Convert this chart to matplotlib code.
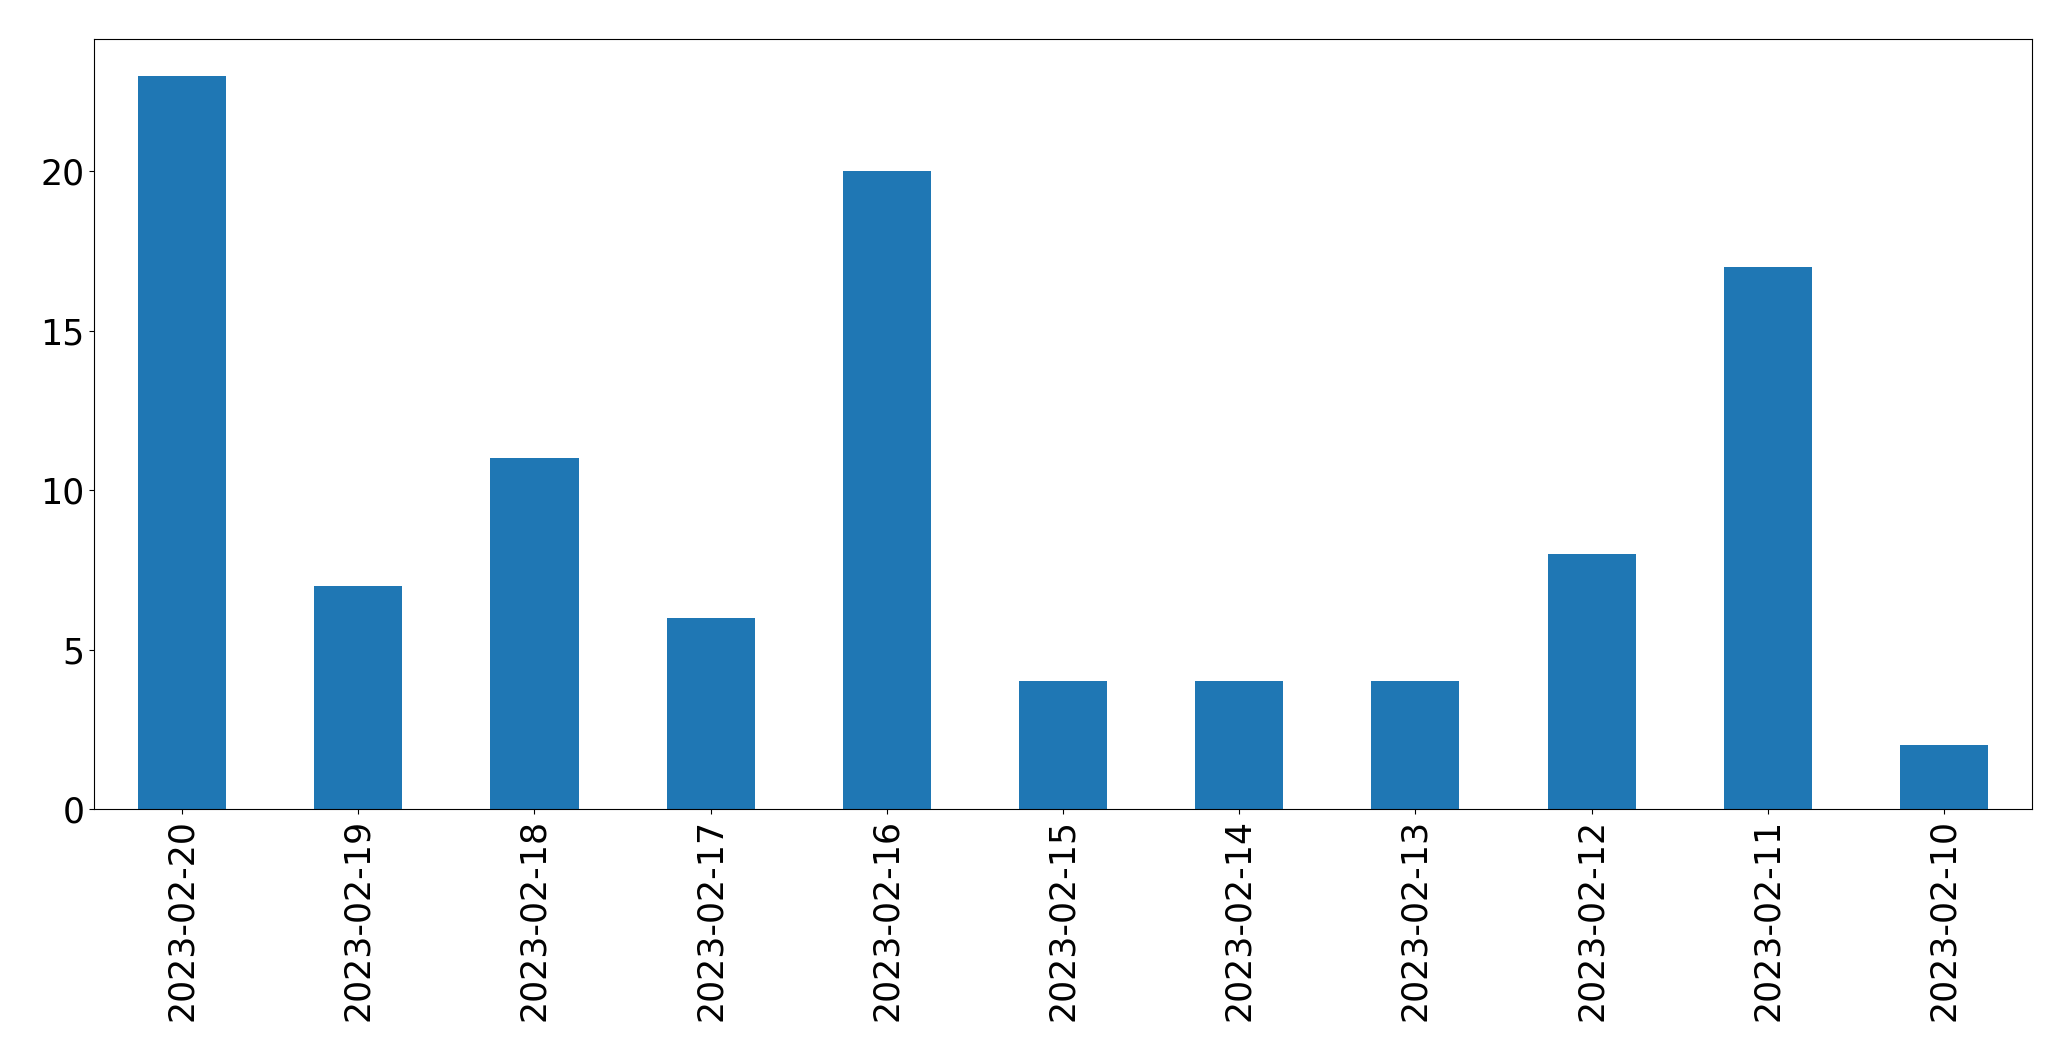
import matplotlib
matplotlib.use('Agg')
import matplotlib.pyplot as plt
import numpy as np
import pandas as pd

dates = ['2023-02-20', '2023-02-19', '2023-02-18', '2023-02-17', '2023-02-16',
         '2023-02-15', '2023-02-14', '2023-02-13', '2023-02-12', '2023-02-11',
         '2023-02-10']
counts = [23, 7, 11, 6, 20, 4, 4, 4, 8, 17, 2]

s = pd.Series(counts, index=dates)

fig = plt.figure(figsize=(20.71, 10.61), dpi=100)
ax = fig.add_axes([0.0454, 0.2375, 0.9358, 0.7257])
s.plot(kind='bar', ax=ax, color='#1f77b4', width=0.5)
ax.tick_params(axis='both', labelsize=25)
plt.setp(ax.get_xticklabels(), rotation=90)

fig.savefig('out.png', dpi=100)
